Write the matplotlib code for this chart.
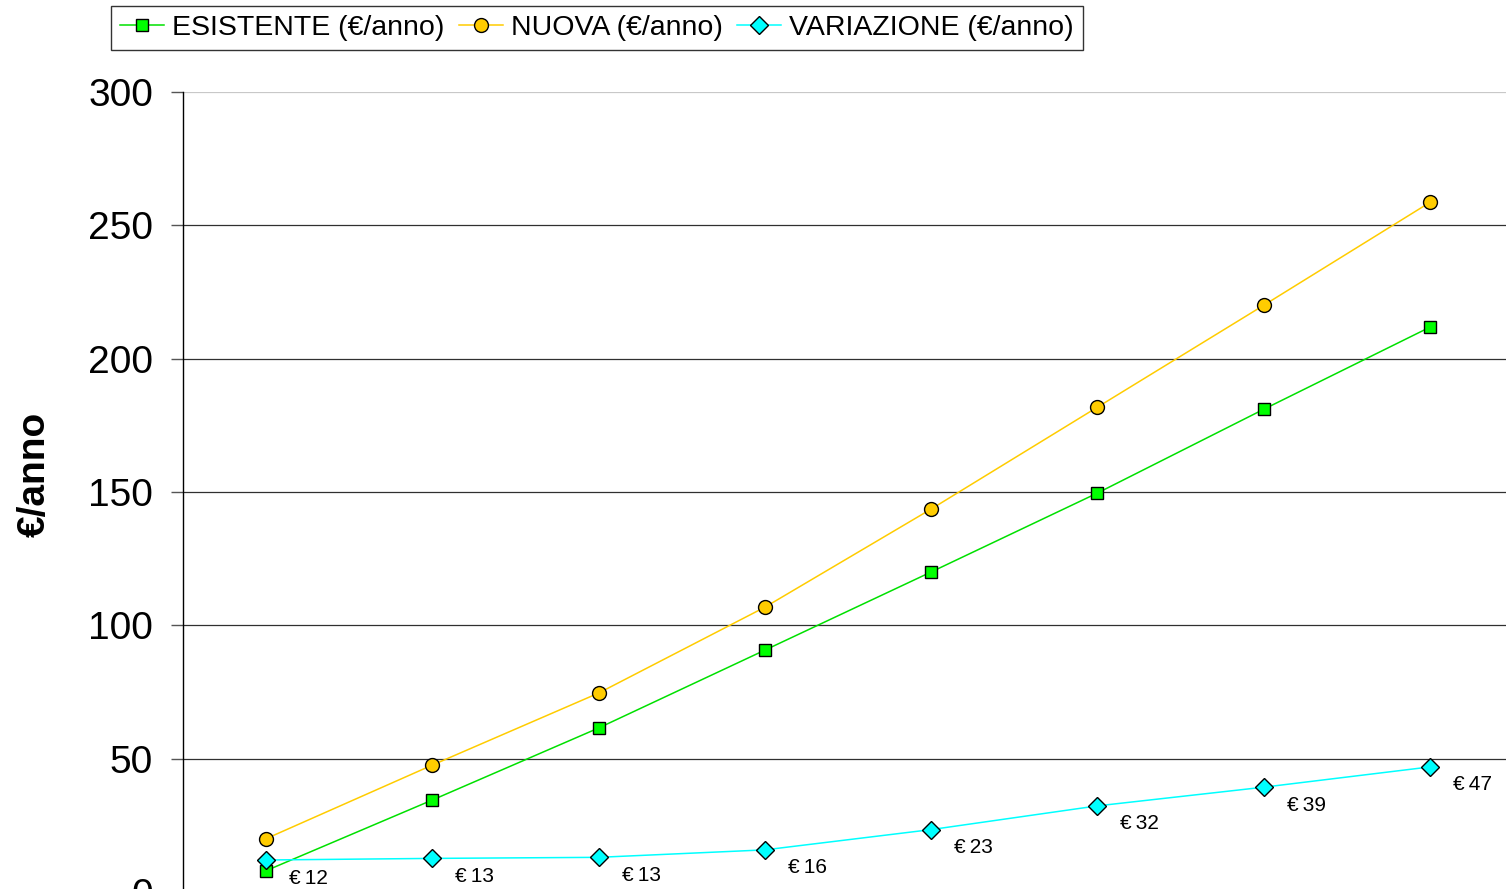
import matplotlib
matplotlib.use("Agg")
import matplotlib.pyplot as plt

plt.rcParams['font.family'] = ['Liberation Sans', 'DejaVu Sans']

# values (euro per year)
series_names = ["ESISTENTE (€/anno)", "NUOVA (€/anno)", "VARIAZIONE (€/anno)"]
esistente = [8.0, 34.5, 61.5, 90.7, 120.0, 149.6, 181.0, 211.8]
nuova = [20.0, 47.6, 74.6, 106.8, 143.6, 181.8, 220.0, 258.6]
variazione = [12.0, 12.6, 13.0, 15.8, 23.4, 32.3, 39.3, 46.9]
yticks = [0, 50, 100, 150, 200, 250, 300]

xs = list(range(len(esistente)))

fig = plt.figure(figsize=(15.06, 8.89), dpi=100)
# plot area runs a little past the bottom and right edge of the picture
ax = fig.add_axes([183 / 1506, -3 / 889, 1330 / 1506, 800 / 889])

styles = [
    dict(color='#00E000', marker='s', mfc='#00FF00', ms=9),
    dict(color='#FFCC00', marker='o', mfc='#FFCC00', ms=10),
    dict(color='#00FFFF', marker='D', mfc='#00FFFF', ms=9),
]
handles = []
for ys, name, st in zip([esistente, nuova, variazione], series_names, styles):
    h, = ax.plot(xs, ys, '-', lw=1.1, mec='black', mew=1.0, label=name,
                 color=st['color'], marker=st['marker'], mfc=st['mfc'],
                 ms=st['ms'])
    handles.append(h)

# data labels on the variation line
for x, v in zip(xs, variazione):
    ax.annotate("€\u2009%d" % round(v), (x, v), xytext=(23, -18),
                textcoords='offset pixels', ha='left', va='center',
                fontsize=15)

ax.set_xlim(-0.5, len(xs) - 0.5)
ax.set_ylim(0, 300)
ax.set_yticks(yticks)
ax.set_xticks([])
ax.tick_params(axis='y', labelsize=28, length=8.5, width=1.0,
               color='#555555', pad=13, direction='out')

ax.yaxis.grid(True, color='#303030', lw=0.9)
ax.get_ygridlines()[-1].set_color('#c8c8c8')
ax.set_axisbelow(True)

ax.spines["top"].set_visible(False)
ax.spines["right"].set_visible(False)
ax.spines["bottom"].set_visible(False)
ax.spines["left"].set_linewidth(1.0)

fig.text(35 / 1506, 1 - 474 / 889, "€/anno", rotation=90, ha='center',
         va='center', fontsize=28, fontweight='bold')

leg = fig.legend(handles, series_names, loc='upper left',
                 bbox_to_anchor=(111 / 1506, 1 - 6 / 889), ncol=3,
                 fontsize=20.5, frameon=True, fancybox=False,
                 borderaxespad=0, borderpad=0.32, handlelength=1.55,
                 handletextpad=0.28, columnspacing=0.5)
leg.get_frame().set_edgecolor('black')
leg.get_frame().set_linewidth(1.0)

plt.savefig("out.png", dpi=100)
